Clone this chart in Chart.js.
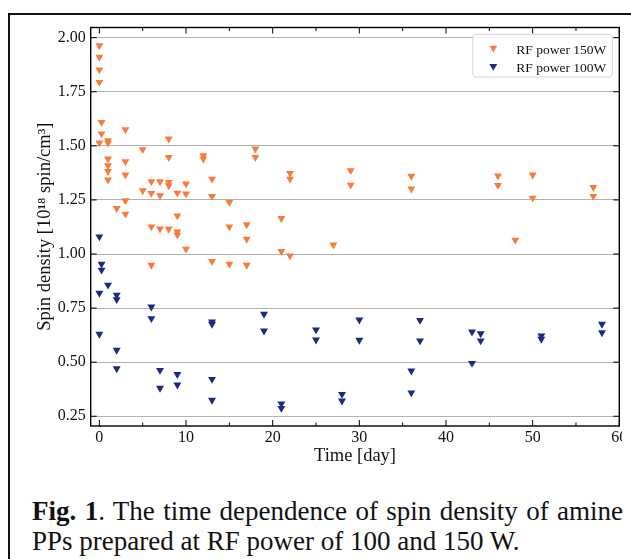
<!DOCTYPE html>
<html>
<head>
<meta charset="utf-8">
<script src="https://cdn.jsdelivr.net/npm/chart.js@4.4.1/dist/chart.umd.min.js"></script>
<style>
    html, body { margin: 0; padding: 0; background: #fff; }
    #fig { position: relative; width: 631px; height: 559px; overflow: hidden; background: #fff; }
    #frame { position: absolute; left: 8px; top: 13px; width: 640px; height: 560px;
             border-left: 2.5px solid #111; border-top: 2.5px solid #111; }
    #plot { position: absolute; left: 0; top: 0; width: 622px; height: 470px; overflow: hidden; }
    #chart { position: absolute; left: 0; top: 0; }
    #caption { position: absolute; left: 32px; top: 496px; width: 591px;
               font-family: "Liberation Serif", "Times New Roman", serif; font-size: 27px;
               line-height: 30px; color: #111; text-align: justify; text-align-last: left; }
</style>
</head>
<body>
<div id="fig">
    <div id="frame"></div>
    <div id="plot"><canvas id="chart" width="631" height="470"></canvas></div>
    <div id="caption"><b>Fig. 1</b>. The time dependence of spin density of amine PPs prepared at RF power of 100 and 150 W.</div>
</div>
<script>
// RF power 150 W
const days150 = [0, 0, 0, 0, 0, 0.25, 0.25, 1, 1, 1, 1, 1, 1, 2, 3, 3, 3, 3, 3, 5, 5,
    6, 6, 6, 6, 7, 7, 7, 8, 8, 8, 8, 8, 9, 9, 9, 9, 10, 10, 10, 12, 12, 13, 13, 13,
    15, 15, 15, 17, 17, 17, 18, 18, 21, 21, 22, 22, 22, 27, 29, 29, 36, 36, 46, 46,
    48, 50, 50, 57, 57];
const spin150 = [1.963, 1.910, 1.852, 1.794, 1.514, 1.609, 1.556, 1.525, 1.514, 1.440, 1.409, 1.382, 1.343,
    1.211, 1.575, 1.427, 1.366, 1.247, 1.185, 1.483, 1.293,
    1.335, 1.281, 1.126, 0.949, 1.335, 1.270, 1.116, 1.532, 1.447, 1.332, 1.316, 1.116,
    1.282, 1.177, 1.103, 1.088, 1.324, 1.278, 1.023, 1.455, 1.440, 1.347, 1.267, 0.966,
    1.239, 1.126, 0.954, 1.136, 1.069, 0.949, 1.486, 1.447, 1.165, 1.012, 1.373, 1.347, 0.992,
    1.042, 1.386, 1.319, 1.360, 1.301, 1.361, 1.318, 1.065, 1.366, 1.259, 1.308, 1.267];

// RF power 100 W
const days100 = [0, 0, 0, 0.25, 0.25, 1, 2, 2, 2, 2, 6, 6, 7, 7, 9, 9, 13, 13, 13, 13,
    19, 19, 21, 21, 25, 25, 28, 28, 30, 30, 36, 36, 37, 37, 43, 43, 44, 44, 51, 51, 58, 58];
const spin100 = [1.080, 0.819, 0.630, 0.954, 0.926, 0.857, 0.810, 0.790, 0.556, 0.470,
    0.756, 0.702, 0.463, 0.380, 0.444, 0.395, 0.687, 0.676, 0.421, 0.325,
    0.722, 0.645, 0.308, 0.287, 0.650, 0.603, 0.352, 0.321, 0.696, 0.602,
    0.460, 0.359, 0.694, 0.599, 0.640, 0.495, 0.632, 0.599, 0.622, 0.607, 0.676, 0.637];

const xTicks = [0, 10, 20, 30, 40, 50, 60];
const xMinorTicks = [5, 15, 25, 35, 45, 55];
const yTicks = [0.25, 0.50, 0.75, 1.00, 1.25, 1.50, 1.75, 2.00];

const labels = ["RF power 150W", "RF power 100W"];
const orange = "#f97c3b";
const navy = "#1b2a82";

const serif = "'Liberation Serif', 'Times New Roman', serif";

function toPoints(xs, ys) {
    return xs.map((x, i) => ({ x: x, y: ys[i] }));
}

// spines, inward ticks and the legend box, drawn like matplotlib does
const frameTicks = {
    id: "frameTicks",
    afterDatasetsDraw(chart) {
        const { ctx, chartArea: a, scales: { x, y } } = chart;
        ctx.save();
        ctx.strokeStyle = "#000";
        ctx.lineWidth = 1;
        ctx.beginPath();
        xTicks.forEach(v => {
            const px = x.getPixelForValue(v);
            ctx.moveTo(px, a.bottom); ctx.lineTo(px, a.bottom - 6);
            ctx.moveTo(px, a.top); ctx.lineTo(px, a.top + 6);
        });
        xMinorTicks.forEach(v => {
            const px = x.getPixelForValue(v);
            ctx.moveTo(px, a.bottom); ctx.lineTo(px, a.bottom - 3.5);
            ctx.moveTo(px, a.top); ctx.lineTo(px, a.top + 3.5);
        });
        yTicks.forEach(v => {
            const py = y.getPixelForValue(v);
            ctx.moveTo(a.left, py); ctx.lineTo(a.left + 6, py);
            ctx.moveTo(a.right, py); ctx.lineTo(a.right - 6, py);
        });
        ctx.stroke();
        ctx.lineWidth = 1.4;
        ctx.strokeRect(a.left, a.top, a.right - a.left, a.bottom - a.top);

        // legend
        const lx = a.right - 146.5, ly = a.top + 7, lw = 139.5, lh = 42.5;
        ctx.beginPath();
        ctx.roundRect(lx, ly, lw, lh, 3);
        ctx.fillStyle = "rgba(255,255,255,0.85)";
        ctx.fill();
        ctx.strokeStyle = "#d6d6d6";
        ctx.lineWidth = 1;
        ctx.stroke();
        ctx.font = "13.5px " + serif;
        ctx.textBaseline = "middle";
        chart.data.datasets.forEach((ds, i) => {
            const cy = ly + 14.5 + i * 18.3;
            const cx = lx + 20.5;
            const r = 4.5;
            ctx.fillStyle = ds.backgroundColor;
            ctx.beginPath();
            ctx.moveTo(cx - r * 0.866, cy - r * 0.75);
            ctx.lineTo(cx + r * 0.866, cy - r * 0.75);
            ctx.lineTo(cx, cy + r * 0.75);
            ctx.closePath();
            ctx.fill();
            ctx.fillStyle = "#111";
            ctx.fillText(ds.label, lx + 43.5, cy + 1);
        });
        ctx.restore();
    }
};

new Chart(document.getElementById("chart"), {
    type: "scatter",
    data: {
        datasets: [
            {
                label: labels[0],
                data: toPoints(days150, spin150),
                backgroundColor: orange,
                borderColor: orange,
                borderWidth: 0,
                pointStyle: "triangle",
                rotation: 180,
                radius: 4.6,
                hoverRadius: 4.6
            },
            {
                label: labels[1],
                data: toPoints(days100, spin100),
                backgroundColor: navy,
                borderColor: navy,
                borderWidth: 0,
                pointStyle: "triangle",
                rotation: 180,
                radius: 4.6,
                hoverRadius: 4.6
            }
        ]
    },
    options: {
        responsive: false,
        animation: false,
        devicePixelRatio: 1,
        layout: { padding: { top: 27.5, right: 11.7, left: 0, bottom: 0 } },
        plugins: { legend: { display: false }, tooltip: { enabled: false } },
        scales: {
            x: {
                type: "linear",
                min: -1,
                max: 60,
                afterBuildTicks: s => { s.ticks = xTicks.map(v => ({ value: v })); },
                afterFit: s => { s.height = 44; },
                grid: { display: false, drawTicks: false },
                border: { display: false },
                ticks: { color: "#111", padding: 2, font: { family: serif, size: 16 } },
                title: {
                    display: true,
                    text: "Time [day]",
                    color: "#111",
                    font: { family: serif, size: 18.5 },
                    padding: { top: 0, bottom: 3 }
                }
            },
            y: {
                min: 0.205,
                max: 2.047,
                afterBuildTicks: s => { s.ticks = yTicks.map(v => ({ value: v })); },
                afterFit: s => { s.width = 90.7; },
                grid: { color: "#b0b0b0", lineWidth: 1, drawTicks: false },
                border: { display: false },
                ticks: {
                    color: "#111",
                    padding: 5,
                    font: { family: serif, size: 16 },
                    callback: v => v.toFixed(2)
                },
                title: {
                    display: true,
                    text: "Spin density [10¹⁸ spin/cm³]",
                    color: "#111",
                    font: { family: serif, size: 18.5 },
                    padding: { top: 34, bottom: 0 }
                }
            }
        }
    },
    plugins: [frameTicks]
});
</script>
</body>
</html>
